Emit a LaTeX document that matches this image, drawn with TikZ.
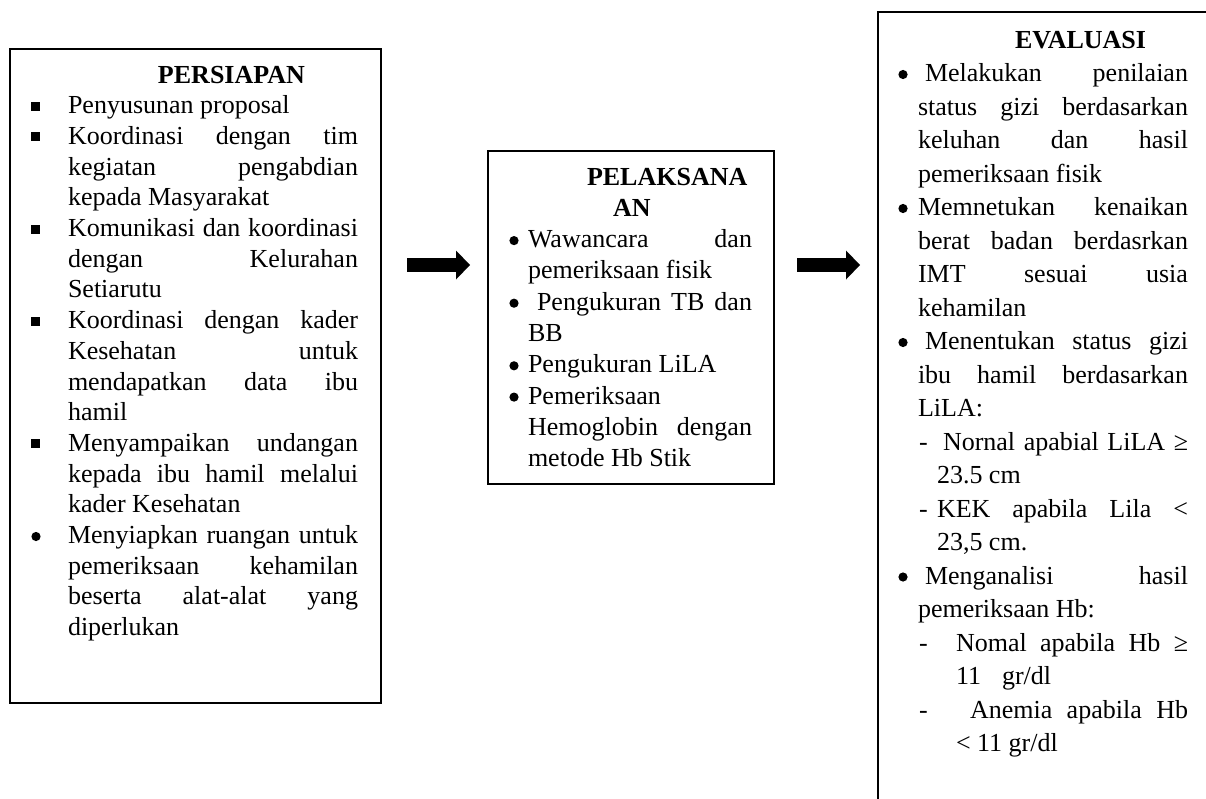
\documentclass[tikz,border=0pt]{standalone}
\usepackage{fontspec}
\setmainfont{Liberation Serif}
\usetikzlibrary{arrows.meta}
\newcommand\JL[3]{\hbox to \linewidth{\hspace*{#1}\makebox[#2][s]{#3}\hss}}
\newcommand\PL[2]{\hbox to \linewidth{\hspace*{#1}#2\hss}}
\newcommand\SQ{\llap{\rule[3pt]{9pt}{9pt}\hspace{28pt}}}
\newcommand\RB[1]{\llap{\makebox[0pt][c]{\tikz[baseline=0pt]\fill[black] (0pt,7pt) circle[radius=4.6pt];}\hspace{#1}}}
\newcommand\DL[3]{\hbox to \linewidth{\rlap{\hspace*{42pt}-}\hspace*{#1}\makebox[#2][s]{#3}\hss}}
\tikzset{
  stagebox/.style={draw=black, line width=2pt, fill=none, inner sep=0pt, anchor=north west},
  stagetext/.style={anchor=base west, inner sep=0pt, outer sep=0pt},
  blockarrow/.style={line width=14pt, -{Triangle[length=14pt,width=29pt,line width=0pt]}}
}
\begin{document}
\begin{tikzpicture}[x=1pt,y=-1pt]
\clip (0,0) rectangle (1206,798);
\fill[white] (0,0) rectangle (1206,798);

% boxes
\node[stagebox, minimum width=371pt, minimum height=654pt] (b1) at (9,48) {};
\node[stagebox, minimum width=286pt, minimum height=333pt] (b2) at (487,150) {};
\node[stagebox, minimum width=400pt, minimum height=900pt] (b3) at (877,11) {};

% PERSIAPAN
\node[stagetext] (t1) at (9,83) {\begin{minipage}[t]{371pt}\fontsize{26pt}{30.7pt}\selectfont
\PL{149pt}{\textbf{PERSIAPAN}}
\PL{59pt}{\SQ Penyusunan proposal}
\JL{59pt}{290pt}{\SQ Koordinasi dengan tim}
\JL{59pt}{290pt}{kegiatan pengabdian}
\PL{59pt}{kepada Masyarakat}
\JL{59pt}{290pt}{\SQ Komunikasi dan koordinasi}
\JL{59pt}{290pt}{dengan Kelurahan}
\PL{59pt}{Setiarutu}
\JL{59pt}{290pt}{\SQ Koordinasi dengan kader}
\JL{59pt}{290pt}{Kesehatan untuk}
\JL{59pt}{290pt}{mendapatkan data ibu}
\PL{59pt}{hamil}
\JL{59pt}{290pt}{\SQ Menyampaikan undangan}
\JL{59pt}{290pt}{kepada ibu hamil melalui}
\PL{59pt}{kader Kesehatan}
\JL{59pt}{290pt}{\RB{32pt}Menyiapkan ruangan untuk}
\JL{59pt}{290pt}{pemeriksaan kehamilan}
\JL{59pt}{290pt}{beserta alat-alat yang}
\PL{59pt}{diperlukan}
\end{minipage}};

% PELAKSANAAN
\node[stagetext] (t2) at (487,185) {\begin{minipage}[t]{286pt}\fontsize{26pt}{31.3pt}\selectfont
\PL{100pt}{\textbf{PELAKSANA}}
\PL{126pt}{\textbf{AN}}
\JL{41pt}{224pt}{\RB{14pt}Wawancara dan}
\PL{41pt}{pemeriksaan fisik}
\JL{50pt}{215pt}{\RB{23pt}Pengukuran TB dan}
\PL{41pt}{BB}
\PL{41pt}{\RB{14pt}Pengukuran LiLA}
\PL{41pt}{\RB{14pt}Pemeriksaan}
\JL{41pt}{224pt}{Hemoglobin dengan}
\PL{41pt}{metode Hb Stik}
\end{minipage}};

% EVALUASI
\node[stagetext] (t3) at (877,48) {\begin{minipage}[t]{329pt}\fontsize{26pt}{33.5pt}\selectfont
\PL{138pt}{\textbf{EVALUASI}}
\JL{48pt}{263pt}{\RB{22pt}Melakukan penilaian}
\JL{41pt}{270pt}{status gizi berdasarkan}
\JL{41pt}{270pt}{keluhan dan hasil}
\PL{41pt}{pemeriksaan fisik}
\JL{41pt}{270pt}{\RB{15pt}Memnetukan kenaikan}
\JL{41pt}{270pt}{berat badan berdasrkan}
\JL{41pt}{270pt}{IMT sesuai usia}
\PL{41pt}{kehamilan}
\JL{48pt}{263pt}{\RB{22pt}Menentukan status gizi}
\JL{41pt}{270pt}{ibu hamil berdasarkan}
\PL{41pt}{LiLA:}
\DL{66pt}{245pt}{Nornal apabial LiLA ≥}
\PL{60pt}{23.5 cm}
\DL{60pt}{251pt}{KEK apabila Lila <}
\PL{60pt}{23,5 cm.}
\JL{48pt}{263pt}{\RB{22pt}Menganalisi hasil}
\PL{41pt}{pemeriksaan Hb:}
\DL{79pt}{232pt}{Nomal apabila Hb ≥}
\PL{79pt}{11\hspace{21pt}gr/dl}
\DL{93pt}{218pt}{Anemia apabila Hb}
\PL{79pt}{< 11 gr/dl}
\end{minipage}};

% arrows
\coordinate (a1s) at (407,265);
\coordinate (a1e) at (470,265);
\coordinate (a2s) at (797,265);
\coordinate (a2e) at (860,265);
\draw[blockarrow] (a1s) -- (a1e);
\draw[blockarrow] (a2s) -- (a2e);
\end{tikzpicture}
\end{document}
